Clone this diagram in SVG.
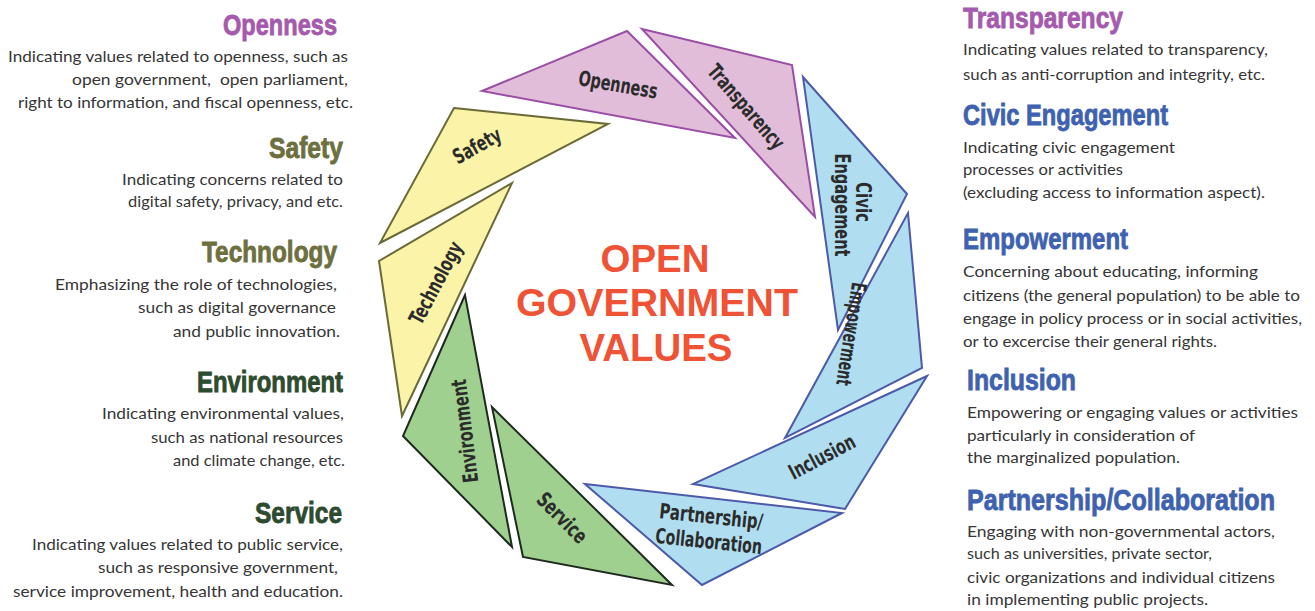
<svg xmlns="http://www.w3.org/2000/svg" width="1315" height="611" viewBox="0 0 1315 611">
<style>
.pk{fill:#e2bdd9;stroke:#9a4ea6;stroke-width:2}
.yl{fill:#fbf3a7;stroke:#6a6a38;stroke-width:2}
.bl{fill:#b0def0;stroke:#4d5aaa;stroke-width:2}
.gr{fill:#9fd08f;stroke:#1f2a1f;stroke-width:2}
.lb{font-family:"DejaVu Sans Condensed","DejaVu Sans","Liberation Sans",sans-serif;font-stretch:condensed;font-weight:bold;font-size:21px;fill:#2b2b2b;text-anchor:middle}
.hd{font-family:"Liberation Sans",Arial,sans-serif;font-weight:bold;font-size:25px;stroke-width:0.7px}
.bd{font-family:Lato,"Open Sans",sans-serif;font-size:16px;fill:#363636}
.pu{fill:#a55aad;stroke:#a55aad}.ol{fill:#6e6f3f;stroke:#6e6f3f}.dg{fill:#2d4b2e;stroke:#2d4b2e}.bu{fill:#3f62b0;stroke:#3f62b0}
.ctr{font-family:"Liberation Sans",Arial,sans-serif;font-weight:bold;font-size:38px;fill:#ef5234;text-anchor:middle}
</style>
<rect width="1315" height="611" fill="#ffffff"/>

<g id="node-openness">
<polygon class="pk" points="482,91 627,31 735,138"/>
<text class="lb" transform="translate(618,85) rotate(10)" y="7" textLength="80" lengthAdjust="spacingAndGlyphs">Openness</text>
</g>
<g id="node-transparency">
<polygon class="pk" points="642,29 792,65 815,217"/>
<text class="lb" transform="translate(746,107) rotate(49)" y="7" textLength="105" lengthAdjust="spacingAndGlyphs">Transparency</text>
</g>
<g id="node-civic">
<polygon class="bl" points="803,77 907,194 838,330"/>
<text class="lb" transform="translate(852,204) rotate(90)" x="-2" y="-4" textLength="40" lengthAdjust="spacingAndGlyphs">Civic</text>
<text class="lb" transform="translate(852,204) rotate(90)" x="1" y="17" textLength="103" lengthAdjust="spacingAndGlyphs">Engagement</text>
</g>
<g id="node-empowerment">
<polygon class="bl" points="908,213 922,368 785,438"/>
<text class="lb" transform="translate(851,334) rotate(99)" y="7" textLength="104" lengthAdjust="spacingAndGlyphs">Empowerment</text>
</g>
<g id="node-inclusion">
<polygon class="bl" points="927,376 693,484 845,509"/>
<text class="lb" transform="translate(822,457) rotate(-28)" y="7" textLength="72" lengthAdjust="spacingAndGlyphs">Inclusion</text>
</g>
<g id="node-partnership">
<polygon class="bl" points="585,484 842,513 702,585"/>
<text class="lb" transform="translate(710,529) rotate(6)" y="-5.5" textLength="104" lengthAdjust="spacingAndGlyphs">Partnership/</text>
<text class="lb" transform="translate(710,529) rotate(6)" y="19.5" textLength="107" lengthAdjust="spacingAndGlyphs">Collaboration</text>
</g>
<g id="node-service">
<polygon class="gr" points="492,407 523,557 672,585"/>
<text class="lb" transform="translate(562,518) rotate(45)" y="7" textLength="62" lengthAdjust="spacingAndGlyphs">Service</text>
</g>
<g id="node-environment">
<polygon class="gr" points="465,295 403,436 512,547"/>
<text class="lb" transform="translate(465,431) rotate(-97)" y="7" textLength="104" lengthAdjust="spacingAndGlyphs">Environment</text>
</g>
<g id="node-technology">
<polygon class="yl" points="379,261 512,183 402,416"/>
<text class="lb" transform="translate(436,283) rotate(-62)" y="7" textLength="90" lengthAdjust="spacingAndGlyphs">Technology</text>
</g>
<g id="node-safety">
<polygon class="yl" points="454,108 608,124 380,243"/>
<text class="lb" transform="translate(477,146) rotate(-29)" y="7" textLength="52" lengthAdjust="spacingAndGlyphs">Safety</text>
</g>

<g id="connectors"></g>

<g id="title">
<text class="ctr" x="655" y="272" textLength="109" lengthAdjust="spacingAndGlyphs">OPEN</text>
<text class="ctr" x="657" y="316" textLength="282" lengthAdjust="spacingAndGlyphs">GOVERNMENT</text>
<text class="ctr" x="656" y="361" textLength="153" lengthAdjust="spacingAndGlyphs">VALUES</text>
</g>

<g id="desc-openness">
<text class="hd pu" transform="translate(223,35) scale(1,1.18)" textLength="114" lengthAdjust="spacingAndGlyphs">Openness</text>
<text class="bd" x="8" y="62" textLength="340" lengthAdjust="spacingAndGlyphs">Indicating values related to openness, such as</text>
<text class="bd" x="72" y="85" textLength="276" lengthAdjust="spacingAndGlyphs" xml:space="preserve">open government,  open parliament,</text>
<text class="bd" x="18" y="108" textLength="335" lengthAdjust="spacingAndGlyphs">right to information, and fiscal openness, etc.</text>
</g>
<g id="desc-safety">
<text class="hd ol" transform="translate(269,158) scale(1,1.18)" textLength="74" lengthAdjust="spacingAndGlyphs">Safety</text>
<text class="bd" x="122" y="185" textLength="221" lengthAdjust="spacingAndGlyphs">Indicating concerns related to</text>
<text class="bd" x="128" y="207" textLength="215" lengthAdjust="spacingAndGlyphs">digital safety, privacy, and etc.</text>
</g>
<g id="desc-technology">
<text class="hd ol" transform="translate(202,262) scale(1,1.18)" textLength="135" lengthAdjust="spacingAndGlyphs">Technology</text>
<text class="bd" x="55" y="290" textLength="282" lengthAdjust="spacingAndGlyphs">Emphasizing the role of technologies,</text>
<text class="bd" x="138" y="313" textLength="198" lengthAdjust="spacingAndGlyphs">such as digital governance</text>
<text class="bd" x="173" y="337" textLength="167" lengthAdjust="spacingAndGlyphs">and public innovation.</text>
</g>
<g id="desc-environment">
<text class="hd dg" transform="translate(197,392) scale(1,1.18)" textLength="146" lengthAdjust="spacingAndGlyphs">Environment</text>
<text class="bd" x="102" y="419" textLength="242" lengthAdjust="spacingAndGlyphs">Indicating environmental values,</text>
<text class="bd" x="151" y="443" textLength="192" lengthAdjust="spacingAndGlyphs">such as national resources</text>
<text class="bd" x="173" y="466" textLength="172" lengthAdjust="spacingAndGlyphs">and climate change, etc.</text>
</g>
<g id="desc-service">
<text class="hd dg" transform="translate(255,523) scale(1,1.18)" textLength="87" lengthAdjust="spacingAndGlyphs">Service</text>
<text class="bd" x="32" y="550" textLength="311" lengthAdjust="spacingAndGlyphs">Indicating values related to public service,</text>
<text class="bd" x="98" y="573" textLength="240" lengthAdjust="spacingAndGlyphs">such as responsive government,</text>
<text class="bd" x="13" y="597" textLength="330" lengthAdjust="spacingAndGlyphs">service improvement, health and education.</text>
</g>

<g id="desc-transparency">
<text class="hd pu" transform="translate(963,28) scale(1,1.18)" textLength="160" lengthAdjust="spacingAndGlyphs">Transparency</text>
<text class="bd" x="963" y="55" textLength="305" lengthAdjust="spacingAndGlyphs">Indicating values related to transparency,</text>
<text class="bd" x="963" y="80" textLength="302" lengthAdjust="spacingAndGlyphs">such as anti-corruption and integrity, etc.</text>
</g>
<g id="desc-civic">
<text class="hd bu" transform="translate(963,125) scale(1,1.18)" textLength="205" lengthAdjust="spacingAndGlyphs">Civic Engagement</text>
<text class="bd" x="963" y="153" textLength="212" lengthAdjust="spacingAndGlyphs">Indicating civic engagement</text>
<text class="bd" x="963" y="175" textLength="160" lengthAdjust="spacingAndGlyphs">processes or activities</text>
<text class="bd" x="963" y="198" textLength="302" lengthAdjust="spacingAndGlyphs">(excluding access to information aspect).</text>
</g>
<g id="desc-empowerment">
<text class="hd bu" transform="translate(963,249) scale(1,1.18)" textLength="165" lengthAdjust="spacingAndGlyphs">Empowerment</text>
<text class="bd" x="963" y="277" textLength="295" lengthAdjust="spacingAndGlyphs">Concerning about educating, informing</text>
<text class="bd" x="963" y="301" textLength="337" lengthAdjust="spacingAndGlyphs">citizens (the general population) to be able to</text>
<text class="bd" x="963" y="324" textLength="339" lengthAdjust="spacingAndGlyphs">engage in policy process or in social activities,</text>
<text class="bd" x="963" y="347" textLength="254" lengthAdjust="spacingAndGlyphs">or to excercise their general rights.</text>
</g>
<g id="desc-inclusion">
<text class="hd bu" transform="translate(967,390) scale(1,1.18)" textLength="109" lengthAdjust="spacingAndGlyphs">Inclusion</text>
<text class="bd" x="967" y="418" textLength="331" lengthAdjust="spacingAndGlyphs">Empowering or engaging values or activities</text>
<text class="bd" x="967" y="441" textLength="228" lengthAdjust="spacingAndGlyphs">particularly in consideration of</text>
<text class="bd" x="967" y="463" textLength="213" lengthAdjust="spacingAndGlyphs">the marginalized population.</text>
</g>
<g id="desc-partnership">
<text class="hd bu" transform="translate(967,510) scale(1,1.18)" textLength="308" lengthAdjust="spacingAndGlyphs">Partnership/Collaboration</text>
<text class="bd" x="967" y="537" textLength="308" lengthAdjust="spacingAndGlyphs">Engaging with non-governmental actors,</text>
<text class="bd" x="967" y="559" textLength="245" lengthAdjust="spacingAndGlyphs">such as universities, private sector,</text>
<text class="bd" x="967" y="583" textLength="308" lengthAdjust="spacingAndGlyphs">civic organizations and individual citizens</text>
<text class="bd" x="967" y="605" textLength="241" lengthAdjust="spacingAndGlyphs">in implementing public projects.</text>
</g>
</svg>
